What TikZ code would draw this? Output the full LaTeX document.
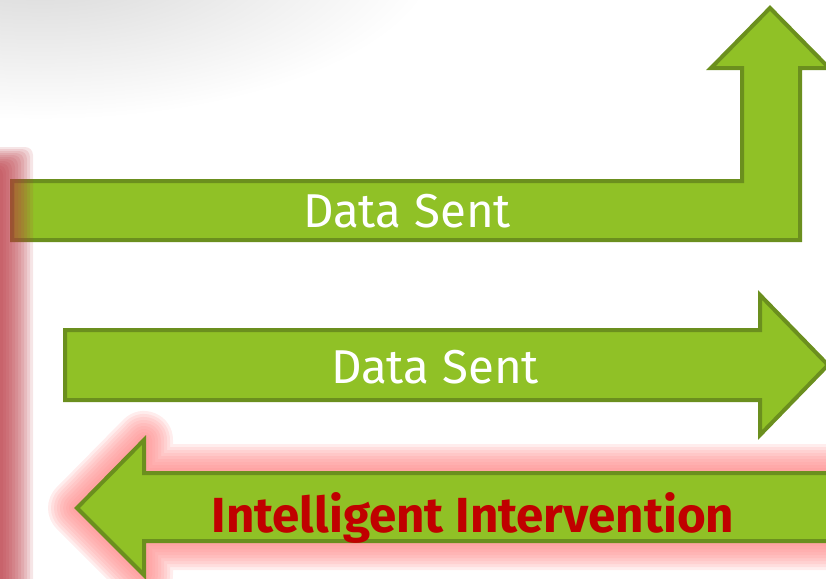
\documentclass[tikz,border=0pt]{standalone}
\usepackage{fontspec}
\setmainfont{Fira Sans}
\definecolor{leaf}{RGB}{144,193,38}
\definecolor{leafedge}{RGB}{107,143,30}
\definecolor{glowpink}{RGB}{255,136,136}
\definecolor{bandred}{RGB}{185,55,65}
\definecolor{alertred}{RGB}{192,0,0}
\begin{document}
\begin{tikzpicture}[x=1pt,y=-1pt,
  arrowbody/.style={fill=leaf, draw=leafedge, line width=4pt, line join=miter},
  datatext/.style={text=white, font=\fontsize{47.5}{52}\selectfont, inner sep=0pt, anchor=base},
  alerttext/.style={text=alertred, font=\bfseries\fontsize{49.3}{54}\selectfont, inner sep=0pt, anchor=base},
  uparrow/.style={insert path={(12,181) -- (742,181) -- (742,68) -- (711,68) -- (770,8) -- (829,68) -- (800,68) -- (800,240) -- (12,240) -- cycle}},
  rightarrow/.style={insert path={(65,330) -- (760,330) -- (760,295) -- (828,365) -- (760,435) -- (760,400) -- (65,400) -- cycle}},
  leftarrow/.style={insert path={(77,508) -- (144,440) -- (144,473) -- (880,473) -- (880,541) -- (144,541) -- (144,575) -- cycle}}]
\useasboundingbox (0,0) rectangle (826,578);
\begin{scope}
\clip (0,0) rectangle (826,578);
% soft grey shadow in the upper left corner
\shade[inner color=black!17, outer color=white] (40,-50) ellipse [x radius=400, y radius=170];
% bent arrow going up
\path[arrowbody, uparrow];
% glow round the returning arrow
\foreach \w in {4,10,...,60}
  \draw[glowpink, line width=\w pt, opacity=0.15, line join=round, leftarrow];
\path[arrowbody, rightarrow];
\path[arrowbody, leftarrow];
% red glow along the left edge
\foreach \k in {0,...,10}
  \fill[bandred, opacity=0.13, rounded corners=8pt] (-40,{147+2*\k}) rectangle ({33-3*\k},620);
\end{scope}
\node[datatext] (sent1) at (407,227) {Data Sent};
\node[datatext] (sent2) at (435,383) {Data Sent};
\node[alerttext] (intervene) at (473,532) {Intelligent Intervention};
\end{tikzpicture}
\end{document}
